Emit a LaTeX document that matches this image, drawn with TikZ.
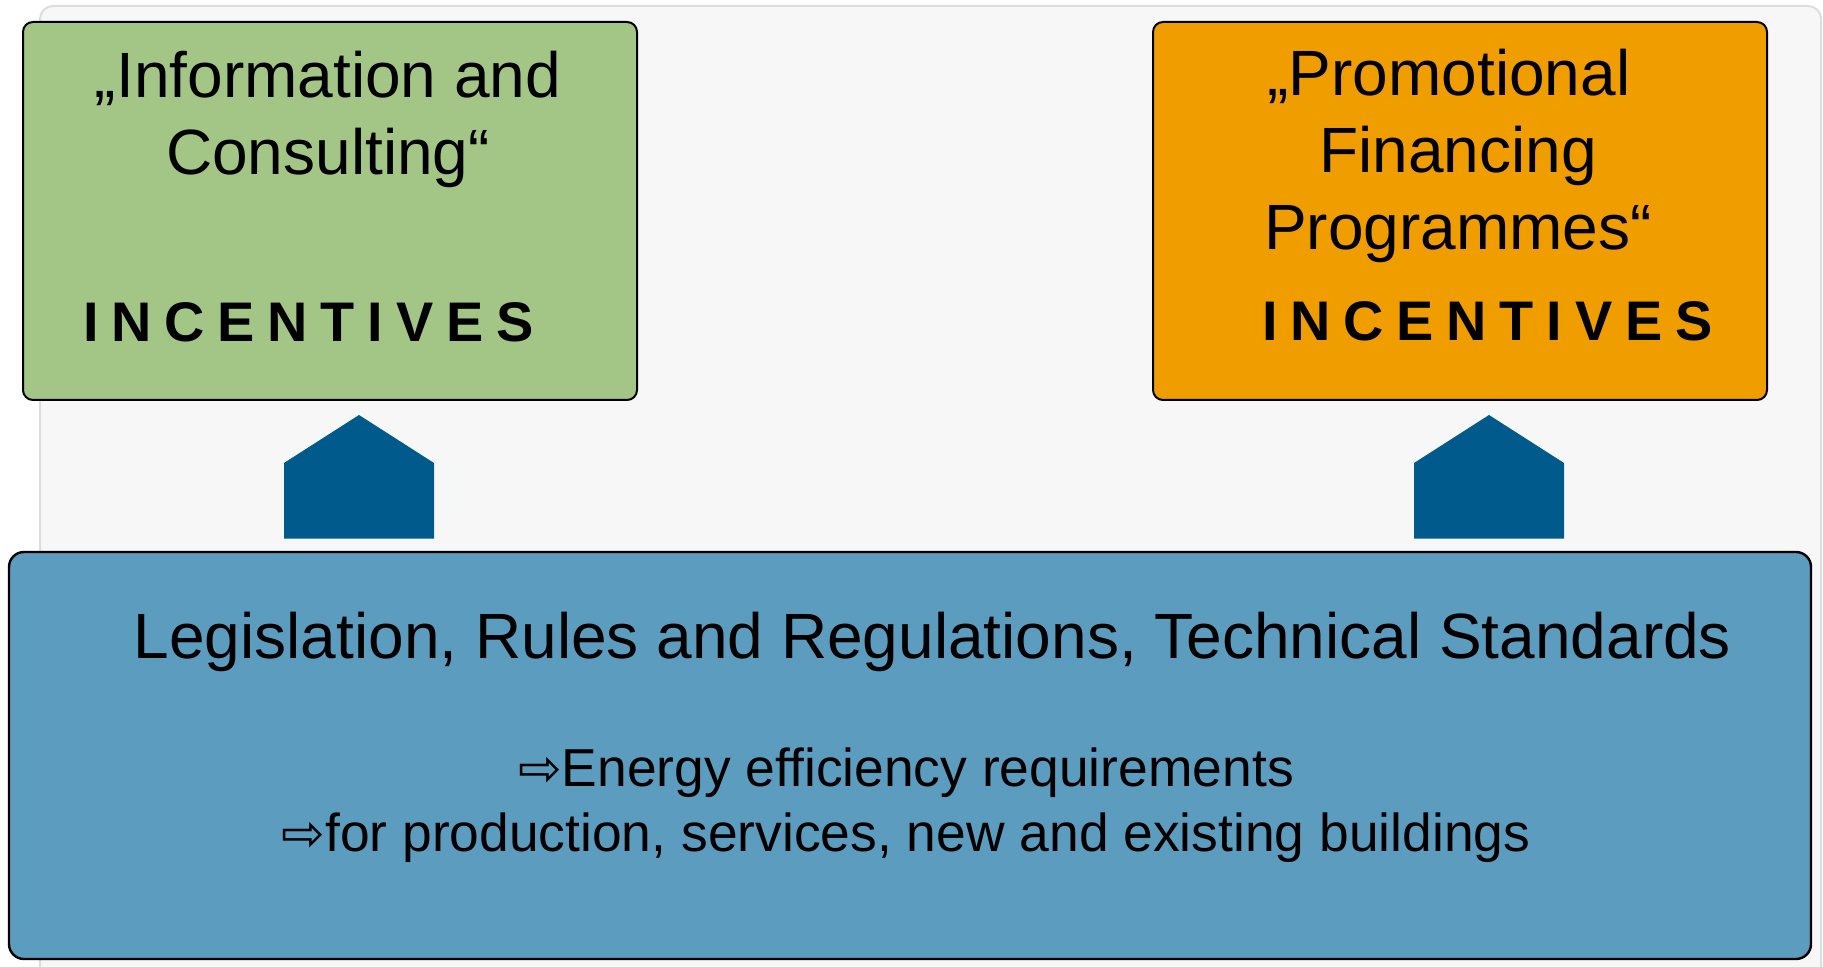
\documentclass[tikz,border=0pt]{standalone}
\usepackage{fontspec}
\setmainfont{Liberation Sans}
\newfontfamily\symfont{DejaVu Sans}
\usetikzlibrary{positioning, calc}

\definecolor{infogreen}{RGB}{163,197,133}
\definecolor{promoorange}{RGB}{240,157,0}
\definecolor{lawblue}{RGB}{91,156,191}
\definecolor{arrowblue}{RGB}{0,90,140}
\definecolor{panelgray}{RGB}{247,247,247}
\definecolor{panelline}{RGB}{221,221,221}

\newcommand{\thenarrow}{{\symfont\fontsize{26}{30}\selectfont ⇨}}

\begin{document}
\begin{tikzpicture}[
  x=0.5pt, y=-0.5pt,
  panel/.style = {draw=panelline, fill=panelgray, line width=1pt, rounded corners=6.5pt},
  box/.style = {draw, line width=1pt, rounded corners=5pt, minimum width=307pt, minimum height=189pt},
  lawbox/.style = {draw, line width=1.2pt, rounded corners=7.5pt, fill=lawblue, minimum width=901pt, minimum height=203.5pt},
  title/.style = {align=center, font=\fontsize{32}{38.5}\selectfont},
  tag/.style = {font=\fontsize{27.9}{30}\selectfont\bfseries\addfontfeature{LetterSpace=23}},
  uparrow/.style = {fill=arrowblue}
]

  % background panel
  \useasboundingbox (0,0) rectangle (1823,967);
  \draw[panel] (40,6) rectangle (1821,1000);

  % incentive boxes
  \node[box, fill=infogreen] (info) at (330,211) {};
  \node[box, fill=promoorange] (promo) at (1460,211) {};

  % titles (base = last line)
  \node[title, anchor=base] (infotitle) at (328,175) {„Information and\\Consulting“};
  \node[title, anchor=base] (promotitle) at (1458,250) {„Promotional\hspace*{9pt}\\Financing\\Programmes“};

  \node[tag, anchor=base west] (infotag) at (76,341.7) {INCENTIVES};
  \node[tag, anchor=base west] (promotag) at (1255,341) {INCENTIVES};

  % legislation box
  \node[lawbox] (law) at (910,755.5) {};
  \node[anchor=base, font=\fontsize{32}{38}\selectfont] (lawtitle) at (932.5,658.3)
    {Legislation, Rules and Regulations, Technical Standards};
  \node[anchor=base, align=center, font=\fontsize{26.7}{32.8}\selectfont] (lawreq) at (906,851.7)
    {\thenarrow Energy efficiency requirements\\
     \thenarrow for production, services, new and existing buildings};

  % block arrows
  \foreach \b in {info, promo}
    \fill[uparrow] ($(\b.south)+(29,14)$) -- ++(75,48) -- ++(0,75.5) -- ++(-150,0) -- ++(0,-75.5) -- cycle;

\end{tikzpicture}
\end{document}
